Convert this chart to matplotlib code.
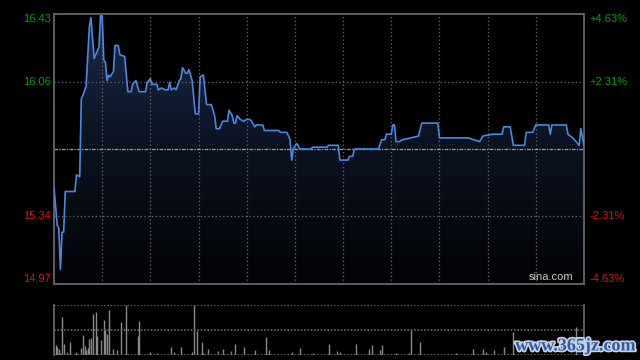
import matplotlib
matplotlib.use('Agg')
import matplotlib.pyplot as plt
import matplotlib.patheffects as pe
from matplotlib.colors import LinearSegmentedColormap
from matplotlib.patches import Polygon
import numpy as np

# intraday price (minute index from open, HK session = 330 minutes)
minutes = [0, 2, 3, 4, 5, 6, 7, 13, 14, 16, 17, 18, 20, 22, 23, 25, 28, 29, 30, 31,
           32, 33, 34, 35, 37, 38, 40, 41, 44, 46, 48, 49, 51, 53, 57, 58, 60, 61, 64, 65,
           67, 69, 71, 72, 73, 75, 76, 78, 79, 80, 82, 83, 84, 86, 88, 90, 91, 93, 95, 98,
           100, 101, 103, 105, 107, 108, 109, 111, 112, 113, 114, 116, 118, 120, 122, 123, 125, 126, 130, 131,
           140, 141, 145, 146, 147, 148, 149, 151, 152, 153, 160, 161, 170, 171, 177, 178, 183, 184, 186, 187,
           202, 204, 206, 207, 210, 211, 212, 213, 215, 217, 222, 227, 229, 239, 240, 258, 265, 267, 273, 279,
           280, 284, 286, 293, 294, 298, 300, 308, 309, 310, 319, 320, 323, 327, 328, 330]
prices = [15.49, 15.29, 15.27, 15.05, 15.25, 15.25, 15.47, 15.47, 15.56, 15.55, 15.97, 15.99, 16.04, 16.36, 16.41, 16.19, 16.25, 16.42, 16.42, 16.18,
          16.17, 16.07, 16.10, 16.09, 16.12, 16.26, 16.26, 16.21, 16.20, 16.01, 16.01, 16.05, 16.07, 16.01, 16.01, 16.06, 16.08, 16.05, 16.05, 16.02,
          16.03, 16.02, 16.02, 16.06, 16.02, 16.03, 16.02, 16.07, 16.08, 16.14, 16.11, 16.11, 16.13, 16.07, 15.89, 15.89, 16.09, 16.10, 15.94, 15.94,
          15.88, 15.81, 15.81, 15.85, 15.85, 15.85, 15.91, 15.88, 15.84, 15.84, 15.88, 15.86, 15.85, 15.86, 15.86, 15.85, 15.82, 15.83, 15.83, 15.80,
          15.80, 15.79, 15.79, 15.77, 15.75, 15.64, 15.70, 15.73, 15.72, 15.70, 15.70, 15.71, 15.71, 15.72, 15.72, 15.64, 15.64, 15.66, 15.66, 15.70,
          15.70, 15.75, 15.75, 15.78, 15.78, 15.83, 15.83, 15.74, 15.74, 15.75, 15.76, 15.77, 15.84, 15.84, 15.76, 15.76, 15.74, 15.77, 15.78, 15.78,
          15.82, 15.82, 15.72, 15.72, 15.79, 15.79, 15.83, 15.83, 15.78, 15.83, 15.83, 15.78, 15.76, 15.72, 15.81, 15.72]

# volume bars (relative units)
vol_minutes = [1, 2, 3, 4, 5, 6, 8, 10, 14, 17, 18, 19, 20, 21, 22, 23, 24, 26, 27, 29,
               31, 32, 33, 34, 35, 37, 39, 42, 45, 52, 53, 60, 64, 73, 75, 79, 86, 87, 89, 92,
               93, 96, 102, 105, 110, 113, 118, 125, 132, 134, 148, 153, 161, 171, 176, 178, 188, 196, 198, 203,
               204, 213, 221, 222, 228, 250, 261, 267, 269, 274, 280, 286, 325]
volumes = [10, 8, 6, 2, 38, 11, 3, 13, 3, 7, 20, 9, 5, 7, 16, 17, 41, 43, 19, 15,
           35, 26, 21, 45, 1, 6, 5, 33, 50, 19, 34, 3, 2, 8, 3, 8, 3, 50, 24, 13,
           2, 6, 4, 6, 4, 11, 8, 5, 18, 5, 3, 7, 2, 11, 4, 3, 11, 6, 10, 5,
           10, 2, 2, 25, 13, 2, 6, 6, 3, 5, 8, 23, 28]

prev_close = 15.70
y_low, y_high = 14.97, 16.43
left_labels = ['16.43', '16.06', '15.34', '14.97']
left_values = [16.43, 16.06, 15.34, 14.97]
right_labels = ['+4.63%', '+2.31%', '-2.31%', '-4.63%']
label_colors = ['#119911', '#119911', '#dd1111', '#dd1111']

GRID = '#6a6a6a'
FRAME = '#6e6e6e'


def draw_price(ax):
    ax.set_facecolor('black')
    ax.set_xlim(0, 330)
    ax.set_ylim(y_low, y_high)

    # gradient fill under the line
    cmap = LinearSegmentedColormap.from_list('fill', ['#020305', '#0b1220', '#1a2b48'])
    grad = np.linspace(0, 1, 256).reshape(-1, 1)
    im = ax.imshow(grad, extent=[0, 330, y_low, y_high], origin='lower',
                   cmap=cmap, aspect='auto', zorder=1)
    verts = list(zip(minutes, prices)) + [(minutes[-1], y_low), (minutes[0], y_low)]
    poly = Polygon(verts, closed=True, facecolor='none', edgecolor='none')
    ax.add_patch(poly)
    im.set_clip_path(poly)

    for k in range(1, 11):
        ax.axvline(30 * k, color=GRID, lw=0.9, ls=(0, (1, 2)), zorder=2)
    for v in [16.06, 15.34]:
        ax.axhline(v, color=GRID, lw=0.9, ls=(0, (1, 2)), zorder=2)
    ax.axhline(prev_close, color='#9a9a9a', lw=0.9, ls=(0, (3, 1, 1, 1)), zorder=2)

    ax.plot(minutes, prices, color='#4d86e0', lw=1.2, zorder=3)

    for sp in ax.spines.values():
        sp.set_color(FRAME)
        sp.set_linewidth(1.2)
    ax.set_xticks([])
    ax.set_yticks([])

    trans = ax.get_yaxis_transform()
    vas = ['top', 'center', 'center', 'bottom']
    for lab, val, rl, col, va in zip(left_labels, left_values, right_labels, label_colors, vas):
        ax.text(-0.006, val, lab, transform=trans, ha='right', va=va,
                color=col, fontsize=8, family='Liberation Sans')
        ax.text(1.011, val, rl, transform=trans, ha='left', va=va,
                color=col, fontsize=8, family='Liberation Sans')

    ax.text(0.979, 0.006, 'sina.com', transform=ax.transAxes, ha='right', va='bottom',
            color='#c8c8c8', fontsize=8, family='Liberation Sans', zorder=4)


def draw_volume(ax):
    ax.set_facecolor('black')
    ax.set_xlim(0, 330)
    ax.set_ylim(0, 50)
    ax.vlines(vol_minutes, 0, volumes, color='#8a8a8a', lw=1.0)
    for v in [50, 25, 0.3]:
        ax.axhline(v, color=GRID, lw=1.2, ls=(0, (1, 1)))
    for side in ['top', 'bottom']:
        ax.spines[side].set_visible(False)
    for side in ['left', 'right']:
        ax.spines[side].set_color(FRAME)
        ax.spines[side].set_linewidth(1.2)
    ax.set_xticks([])
    ax.set_yticks([])


def main():
    fig = plt.figure(figsize=(6.4, 3.6), dpi=100, facecolor='black')
    ax = fig.add_axes([54 / 640, 1 - 284 / 360, 530 / 640, 270 / 360])
    ax2 = fig.add_axes([54 / 640, 1 - 355 / 360, 530 / 640, 50 / 360])
    draw_price(ax)
    draw_volume(ax2)

    fig.text(575 / 640, 1 - 346 / 360, 'www.365jz.com', ha='center', va='center',
             color='#2c5ca6', fontsize=13, fontweight='bold', family='Liberation Serif',
             path_effects=[pe.withStroke(linewidth=2.5, foreground='#c9d2e2')])

    fig.savefig('out.png', dpi=100, facecolor='black')


if __name__ == '__main__':
    main()
